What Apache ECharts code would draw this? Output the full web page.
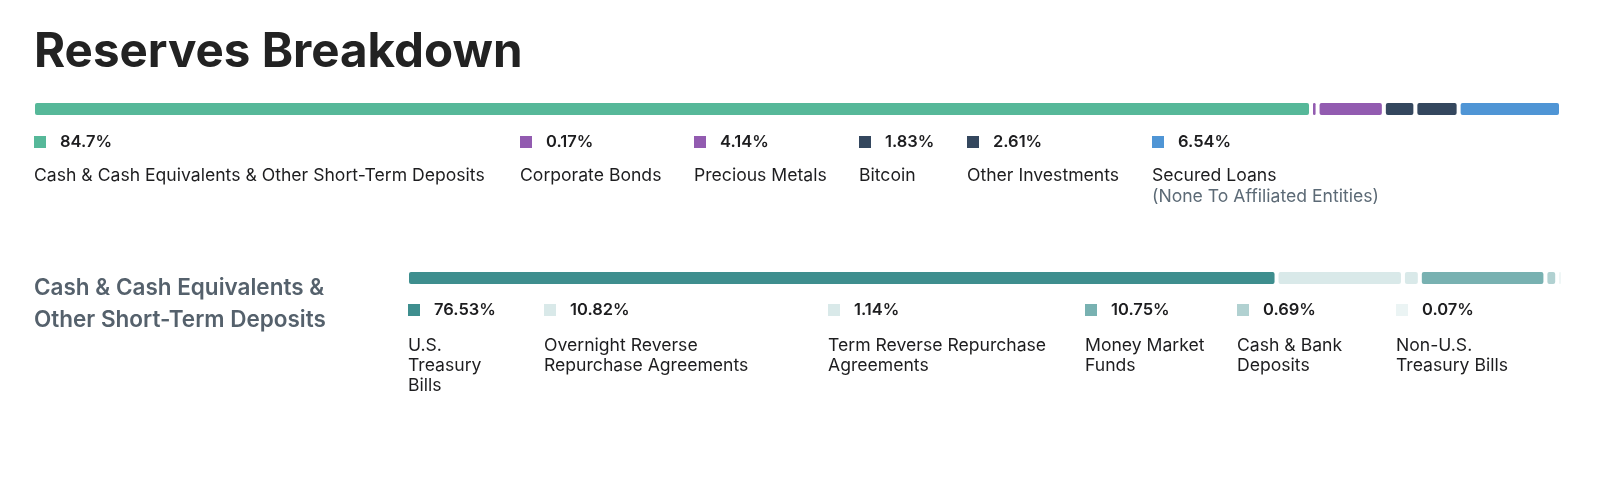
<!DOCTYPE html>
<html>
<head>
<meta charset="utf-8">
<script src="https://cdn.jsdelivr.net/npm/echarts@6/dist/echarts.min.js"></script>
<style>
html,body{margin:0;padding:0;background:#fff;}
#chart{width:1600px;height:503px;}
</style>
</head>
<body>
<div id="chart"></div>
<script>
// ---- data ----
const titleText = 'Reserves Breakdown';
const topCategories = ['Cash & Cash Equivalents & Other Short-Term Deposits', 'Corporate Bonds', 'Precious Metals', 'Bitcoin', 'Other Investments', 'Secured Loans'];
const topValues = [84.7, 0.17, 4.14, 1.83, 2.61, 6.54];
const topNotes = ['', '', '', '', '', '(None To Affiliated Entities)'];
const subTitle = 'Cash & Cash Equivalents &\nOther Short-Term Deposits';
const subCategories = ['U.S.\nTreasury\nBills', 'Overnight Reverse\nRepurchase Agreements', 'Term Reverse Repurchase\nAgreements', 'Money Market\nFunds', 'Cash & Bank\nDeposits', 'Non-U.S.\nTreasury Bills'];
const subValues = [76.53, 10.82, 1.14, 10.75, 0.69, 0.07];

// ---- styles / layout ----
const topColors = ['#56b899', '#925bb0', '#925bb0', '#34475e', '#34475e', '#4f95d5'];
const subColors = ['#3e8e8e', '#d9e9e9', '#d9e9e9', '#78b1b1', '#b1d1d1', '#ebf4f4'];
const topLegendX = [34, 520, 694, 859, 967, 1152];
const subLegendX = [408, 544, 828, 1085, 1237, 1396];
const FONT = 'Inter';
const GAP = 4;
const BAR_H = 12;
const TEXT_DARK = '#1d1d1f';
const BODY_FONT = '400 17.6px ' + FONT;
const PCT_FONT = '600 16.5px ' + FONT;

function pct(v) { return v + '%'; }
function sum(a) { return a.reduce((s, v) => s + v, 0); }

function barSeries(idx, values, colors) {
  let cum = 0;
  const data = values.map((v, i) => { const d = [cum, 0, v, i]; cum += v; return d; });
  return {
    type: 'custom',
    xAxisIndex: idx, yAxisIndex: idx,
    silent: true,
    encode: { x: [0], y: 1 },
    data: data,
    renderItem: function (params, api) {
      const i = api.value(3);
      const start = api.coord([api.value(0), 0]);
      const w = api.size([api.value(2), 0])[0];
      return {
        type: 'rect',
        shape: { x: start[0] + i * GAP, y: start[1] - BAR_H / 2, width: Math.max(w, 1.6), height: BAR_H, r: 2 },
        style: { fill: colors[i] }
      };
    }
  };
}

const graphics = [];
graphics.push({ type: 'text', x: 34, y: 53, style: { text: titleText, font: '700 47.5px ' + FONT, fill: '#222222', verticalAlign: 'middle' } });

topCategories.forEach((c, i) => {
  const x = topLegendX[i];
  graphics.push({ type: 'rect', shape: { x: x, y: 136, width: 12, height: 12 }, style: { fill: topColors[i] } });
  graphics.push({ type: 'text', x: x + 26, y: 142, style: { text: pct(topValues[i]), font: PCT_FONT, fill: TEXT_DARK, verticalAlign: 'middle' } });
  graphics.push({ type: 'text', x: x, y: 176, style: { text: c, font: BODY_FONT, fill: TEXT_DARK, verticalAlign: 'middle' } });
  if (topNotes[i]) {
    graphics.push({ type: 'text', x: x, y: 197, style: { text: topNotes[i], font: BODY_FONT, fill: '#5c6a76', verticalAlign: 'middle' } });
  }
});

graphics.push({ type: 'text', x: 34, y: 288 - 16, style: { text: subTitle, font: '600 22.5px ' + FONT, fill: '#55616c', verticalAlign: 'top', lineHeight: 32 } });

subCategories.forEach((c, i) => {
  const x = subLegendX[i];
  graphics.push({ type: 'rect', shape: { x: x, y: 304, width: 12, height: 12 }, style: { fill: subColors[i] } });
  graphics.push({ type: 'text', x: x + 26, y: 310, style: { text: pct(subValues[i]), font: PCT_FONT, fill: TEXT_DARK, verticalAlign: 'middle' } });
  graphics.push({ type: 'text', x: x, y: 345.5 - 10, style: { text: c, font: BODY_FONT, fill: TEXT_DARK, verticalAlign: 'top', lineHeight: 20 } });
});

const chart = echarts.init(document.getElementById('chart'), null, { renderer: 'canvas' });
chart.setOption({
  backgroundColor: '#ffffff',
  animation: false,
  grid: [
    { left: 35, top: 103, width: 1504, height: BAR_H },
    { left: 409, top: 272, width: 1131, height: BAR_H }
  ],
  xAxis: [
    { gridIndex: 0, type: 'value', min: 0, max: sum(topValues), show: false },
    { gridIndex: 1, type: 'value', min: 0, max: sum(subValues), show: false }
  ],
  yAxis: [
    { gridIndex: 0, type: 'category', data: ['reserves'], show: false },
    { gridIndex: 1, type: 'category', data: ['cash'], show: false }
  ],
  series: [barSeries(0, topValues, topColors), barSeries(1, subValues, subColors)],
  graphic: graphics
});
</script>
</body>
</html>
